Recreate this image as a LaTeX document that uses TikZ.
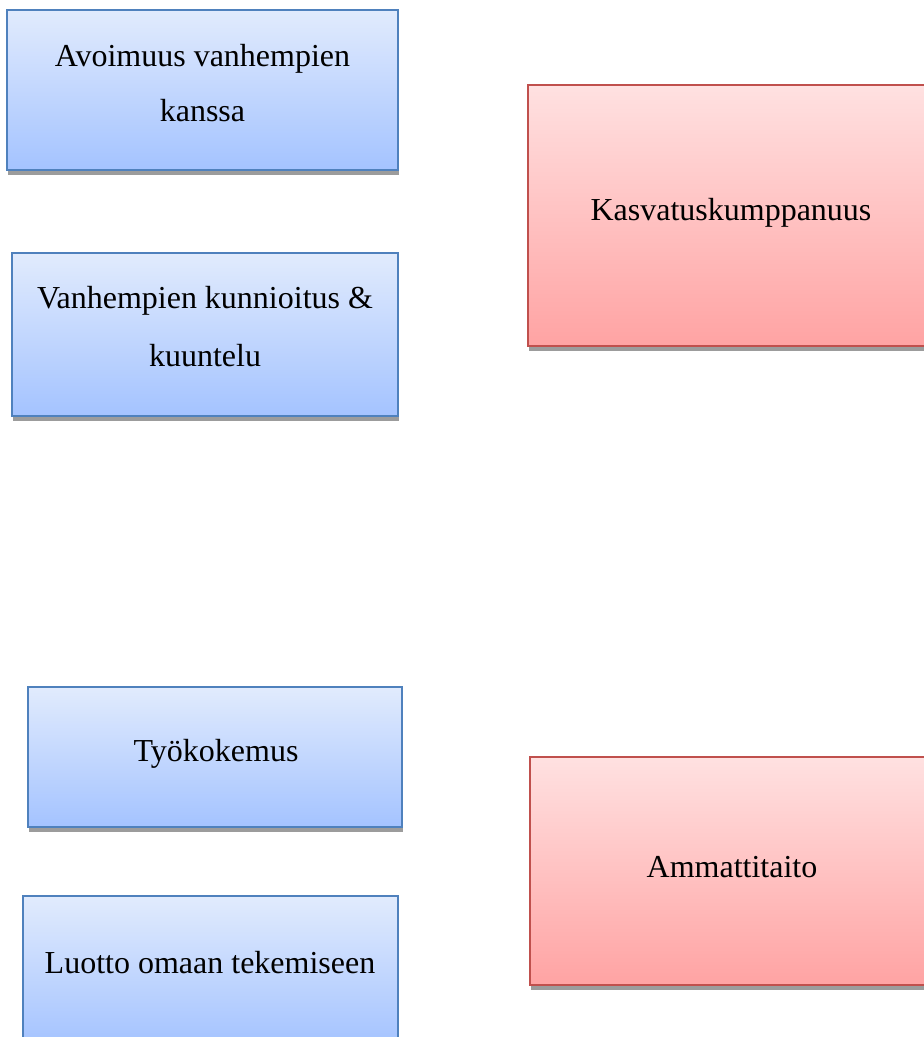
\documentclass[tikz,border=0pt]{standalone}
\usepackage{fontspec}
\setmainfont{Liberation Serif}
\usetikzlibrary{shadows}
\definecolor{bluetop}{HTML}{E1EBFD}
\definecolor{bluebot}{HTML}{A4C3FF}
\definecolor{blueline}{HTML}{4F81BD}
\definecolor{redtop}{HTML}{FFE1E1}
\definecolor{redbot}{HTML}{FFA3A3}
\definecolor{redline}{HTML}{C0504D}
\definecolor{shadowgray}{HTML}{9C9C9C}
\tikzset{
  boxbase/.style={rectangle, line width=2pt, inner sep=0pt,
    drop shadow={fill=shadowgray, opacity=1, shadow xshift=1pt, shadow yshift=-5pt}},
  bluebox/.style={boxbase, draw=blueline, top color=bluetop, bottom color=bluebot},
  redbox/.style={boxbase, draw=redline, top color=redtop, bottom color=redbot},
  label/.style={anchor=base, inner sep=0pt, align=center,
    font=\fontsize{32}{55}\selectfont}
}
\begin{document}
\begin{tikzpicture}[x=1pt, y=-1pt]
\useasboundingbox (0,0) rectangle (924,1037);
\clip (0,0) rectangle (924,1037);
\node[bluebox, minimum width=391pt, minimum height=160pt] (b1) at (202.5,90) {};
\node[bluebox, minimum width=386pt, minimum height=163pt] (b2) at (205,334.5) {};
\node[bluebox, minimum width=374pt, minimum height=140pt] (b3) at (215,757) {};
\node[bluebox, minimum width=375pt, minimum height=150pt] (b4) at (210.5,971) {};
\node[redbox, minimum width=406pt, minimum height=261pt] (r1) at (731,215.5) {};
\node[redbox, minimum width=404pt, minimum height=228pt] (r2) at (732,871) {};
\node[label] (t1) at (202.5,121) {Avoimuus vanhempien\\kanssa};
\node[label, font=\fontsize{32}{58}\selectfont] (t2) at (205,366) {Vanhempien kunnioitus \&\\kuuntelu};
\node[label] (t3) at (216,761) {Työkokemus};
\node[label] (t4) at (210,973) {Luotto omaan tekemiseen};
\node[label] (t5) at (731,220) {Kasvatuskumppanuus};
\node[label] (t6) at (732,877) {Ammattitaito};
\end{tikzpicture}
\end{document}
